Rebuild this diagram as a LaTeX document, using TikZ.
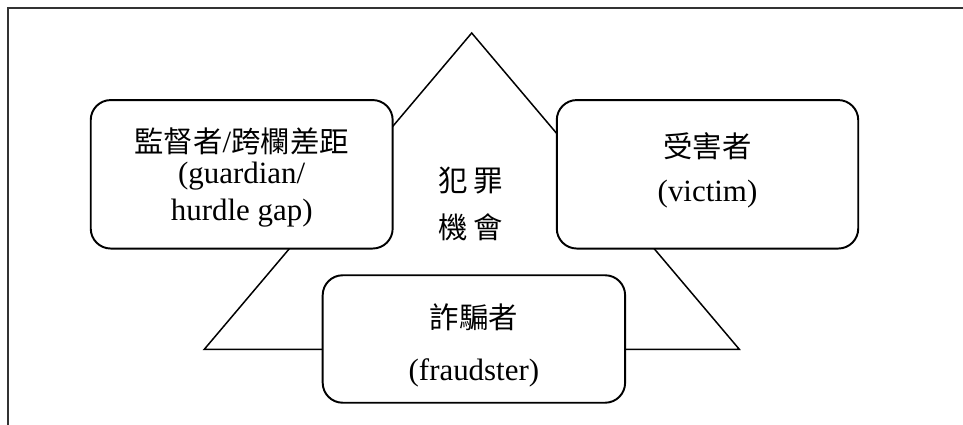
\documentclass[tikz,border=0pt]{standalone}
\usepackage{fontspec}
\setmainfont{Liberation Serif}
\newfontfamily\cjk[Scale=0.95]{Noto Sans CJK TC}
\tikzset{
    roundbox/.style={draw,line width=1.1pt,rounded corners=0.4cm,fill=white,align=center,inner sep=0pt,font=\fontsize{17.6pt}{21pt}\selectfont},
}
\begin{document}
\begin{tikzpicture}[x=0.02cm,y=-0.02cm]
        \useasboundingbox (0,0) rectangle (963,425);
        %% Frame
        \draw[line width=1.3pt,black!80] (963,8.3) -- (8.3,8.3) -- (8.3,425);
        %% Triangle
        \draw[line width=0.85pt] (471.7,33) -- (739.3,349.3) -- (204.3,349.3) -- cycle;
        \node[align=center,font=\fontsize{17.6pt}{21pt}\selectfont] (opportunity) at (471,204) {{\cjk 犯\hspace{3pt}罪}\\[6.2pt]{\cjk 機\hspace{3pt}會}};
        %% Boxes
        \node[roundbox,minimum width=6.04cm,minimum height=2.97cm] (guardian) at (241.7,174.3) {\rule{0pt}{18.1pt}{\cjk 監督者}/{\cjk 跨欄差距}\\[-3.4pt](guardian/\\hurdle gap)};
        \node[roundbox,minimum width=6.03cm,minimum height=2.97cm] (victim) at (707.5,174.3) {{\cjk 受害者}\\[4pt](victim)\rule[-8.3pt]{0pt}{8.3pt}};
        \node[roundbox,minimum width=6.05cm,minimum height=2.55cm] (fraudster) at (473.9,339) {\rule{0pt}{21.5pt}{\cjk 詐騙者}\\[8.8pt](fraudster)};
\end{tikzpicture}
\end{document}
